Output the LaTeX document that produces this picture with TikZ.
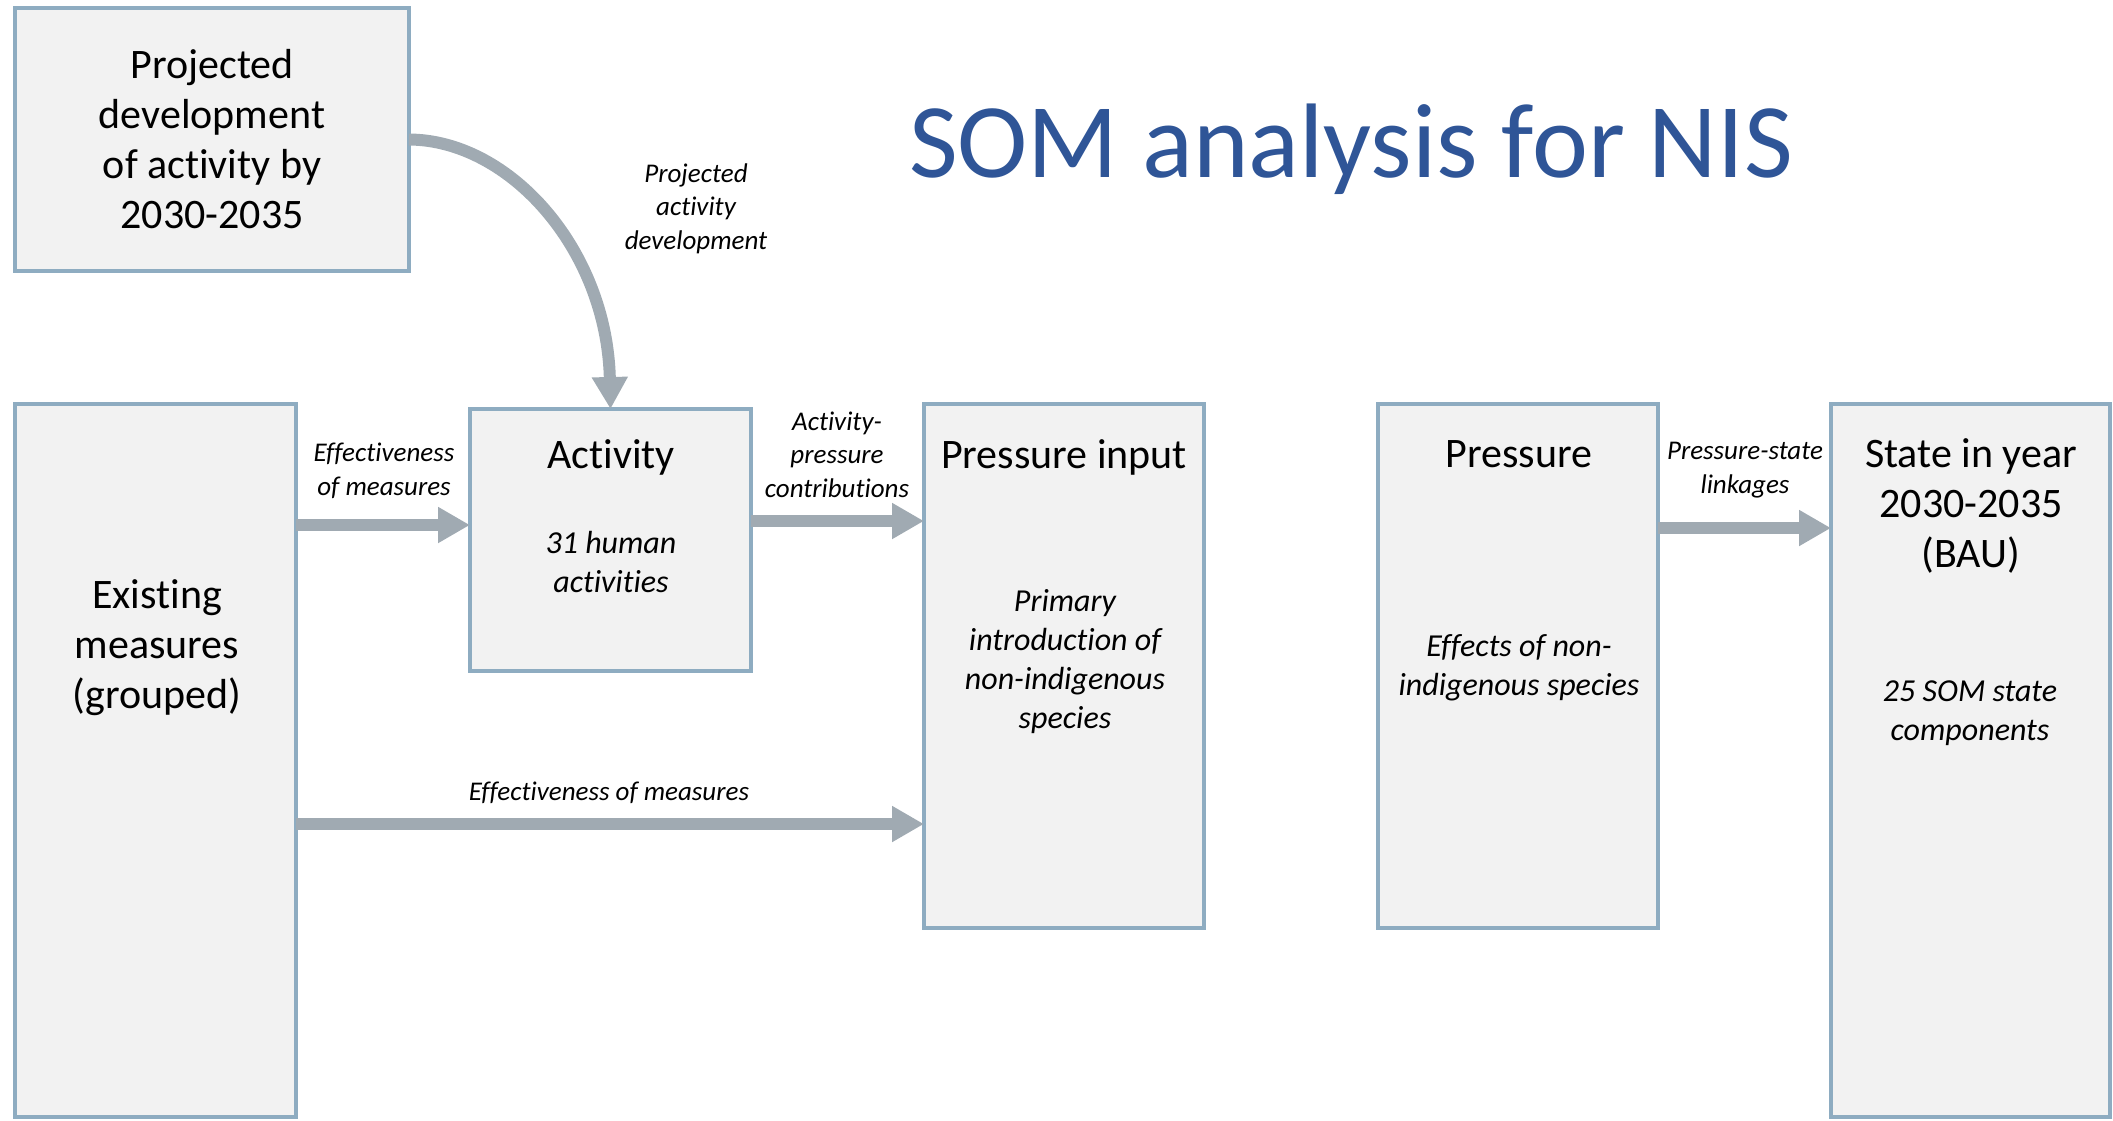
\documentclass[tikz,border=0pt]{standalone}
\usepackage{fontspec}
\setmainfont[Ligatures=NoCommon]{Carlito}
\usetikzlibrary{arrows.meta}
\definecolor{bordc}{HTML}{8EACC1}
\definecolor{fillc}{HTML}{F2F2F2}
\definecolor{arrc}{HTML}{A0AAB2}
\definecolor{titc}{HTML}{2F5597}
\begin{document}
\begin{tikzpicture}[x=0.5pt,y=-0.5pt,
  box/.style={draw=bordc, fill=fillc, line width=2pt, anchor=north west, inner sep=0pt, outer sep=0pt},
  big/.style={font=\fontsize{21}{25}\selectfont, align=center, anchor=base, inner sep=0pt},
  mid/.style={font=\fontsize{16}{19.5}\selectfont\itshape, align=center, anchor=base, inner sep=0pt},
  lab/.style={font=\fontsize{13.5}{16.75}\selectfont\itshape, align=center, anchor=base, inner sep=0pt},
  arr/.style={draw=arrc, line width=6pt, -{Triangle[length=16pt,width=17pt]}}
]
\useasboundingbox (0,0) rectangle (2113,1120);
\clip (0,0) rectangle (2113,1120);

% boxes
\node[box, minimum width=197pt, minimum height=131.5pt] (proj) at (15,8) {};
\node[box, minimum width=140.5pt, minimum height=356.5pt] (exist) at (15,404) {};
\node[box, minimum width=140.5pt, minimum height=131pt] (act) at (470,409) {};
\node[box, minimum width=140pt, minimum height=262pt] (pin) at (924,404) {};
\node[box, minimum width=140pt, minimum height=262pt] (pres) at (1378,404) {};
\node[box, minimum width=139.5pt, minimum height=356.5pt] (state) at (1831,404) {};

% title
\node[font=\fontsize{53}{60}\selectfont, text=titc, anchor=base, inner sep=0pt] (title) at (1351,177) {SOM analysis for NIS};

% box texts (anchor = baseline of the last line)
\node[big] (projt) at (212,228) {Projected\\development\\of activity by\\2030-2035};
\node[big] (actt) at (611,468) {Activity};
\node[mid] (acts) at (611,592) {31 human\\activities};
\node[big] (pint) at (1064,468) {Pressure input};
\node[mid] (pins) at (1065,728) {Primary\\introduction of\\non-indigenous\\species};
\node[big] (prest) at (1519,467) {Pressure};
\node[mid] (press) at (1519,695) {Effects of non-\\indigenous species};
\node[big] (statet) at (1971,567) {State in year\\2030-2035\\(BAU)};
\node[mid] (states) at (1970,740) {25 SOM state\\components};
\node[big] (existt) at (157,708) {Existing\\measures\\(grouped)};

% arrow labels
\node[lab] (l1) at (384,495) {Effectiveness\\of measures};
\node[lab] (l2) at (837,497) {Activity-\\pressure\\contributions};
\node[lab] (l3) at (609,800) {Effectiveness of measures};
\node[lab] (l4) at (1745,493) {Pressure-state\\linkages};
\node[lab] (l5) at (696,249) {Projected\\activity\\development};

% arrow levels
\coordinate (ya) at (0,525);
\coordinate (yb) at (0,521);
\coordinate (yc) at (0,824);
\coordinate (yd) at (0,528);

\draw[arr] (exist.east |- ya) -- (act.west |- ya);
\draw[arr] (act.east |- yb) -- (pin.west |- yb);
\draw[arr] (exist.east |- yc) -- (pin.west |- yc);
\draw[arr] (pres.east |- yd) -- (state.west |- yd);
\draw[arr] (proj.east) .. controls (510,140) and (607,250) .. (act.north);
\end{tikzpicture}
\end{document}
